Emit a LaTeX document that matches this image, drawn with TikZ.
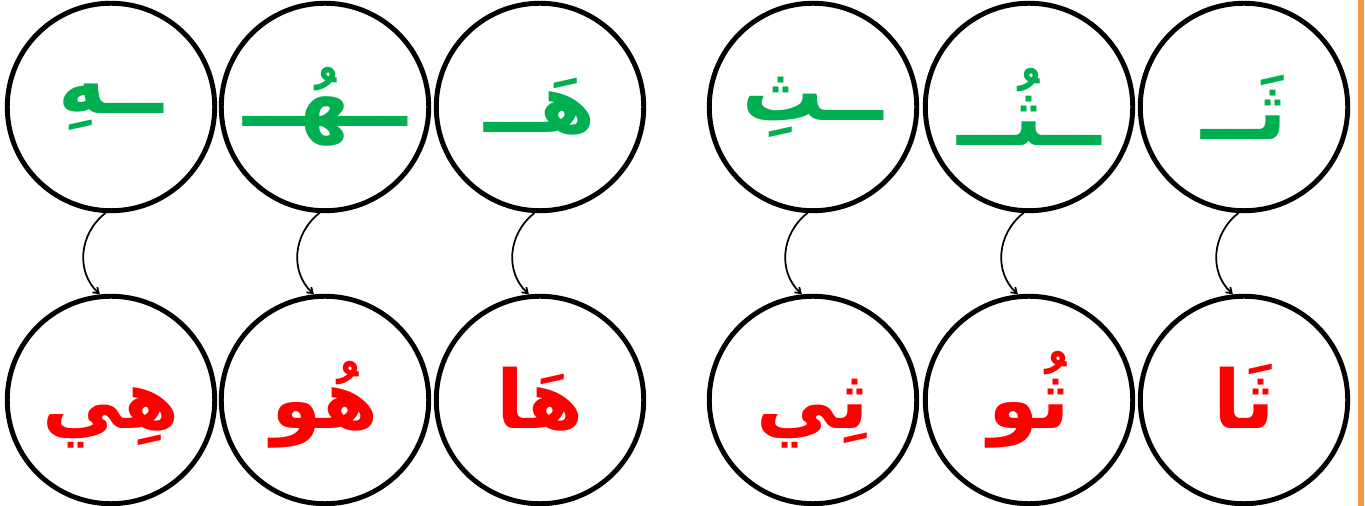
\documentclass[tikz,border=0pt]{standalone}
\usepackage{fontspec}
\newfontfamily\arabicfont[Script=Arabic]{DejaVu Sans}
\TeXXeTstate=1
\usepackage{tikz}
\usetikzlibrary{arrows.meta}
\definecolor{lgreen}{RGB}{0,176,80}
\definecolor{lorange}{RGB}{247,150,70}

\begin{document}
\begin{tikzpicture}[x=0.02cm,y=0.02cm,>={Straight Barb[length=3pt,width=4pt]}]
\tikzstyle{c}=[circle,draw,line width=2.8pt,minimum size=4.15cm,inner sep=0pt,font=\arabicfont\bfseries\fontsize{46}{50}\selectfont]
\tikzstyle{top}=[c,text=lgreen]
\tikzstyle{bot}=[c,text=red,text height=36pt,text depth=4pt]
\tikzstyle{link}=[->,line width=1pt,out=218,in=137,looseness=1.05]
\useasboundingbox (0,0) rectangle (1365,506);
% heh
\node[top] (h1) at (111,399) {\beginR ــهِ\endR};
\node[top] (h2) at (325,399) {\beginR ــهُــ\endR};
\node[top] (h3) at (540,399) {\beginR هَــ\endR};
\node[bot] (hb1) at (111,106) {\beginR هِي\endR};
\node[bot] (hb2) at (325,106) {\beginR هُو\endR};
\node[bot] (hb3) at (540,106) {\beginR هَا\endR};
% tha
\node[top] (t1) at (813,399) {\beginR ــثِ\endR};
\node[top] (t2) at (1029,399) {\beginR ــثُــ\endR};
\node[top] (t3) at (1244,399) {\beginR ثَــ\endR};
\node[bot] (tb1) at (813,106) {\beginR ثِي\endR};
\node[bot] (tb2) at (1029,106) {\beginR ثُو\endR};
\node[bot] (tb3) at (1244,106) {\beginR ثَا\endR};
\foreach \a/\b in {h1/hb1,h2/hb2,h3/hb3,t1/tb1,t2/tb2,t3/tb3}
  \draw[link] (\a.267) to (\b.96);
\draw[lorange,line width=3pt] (1361,0) -- (1361,506);
\end{tikzpicture}
\end{document}
